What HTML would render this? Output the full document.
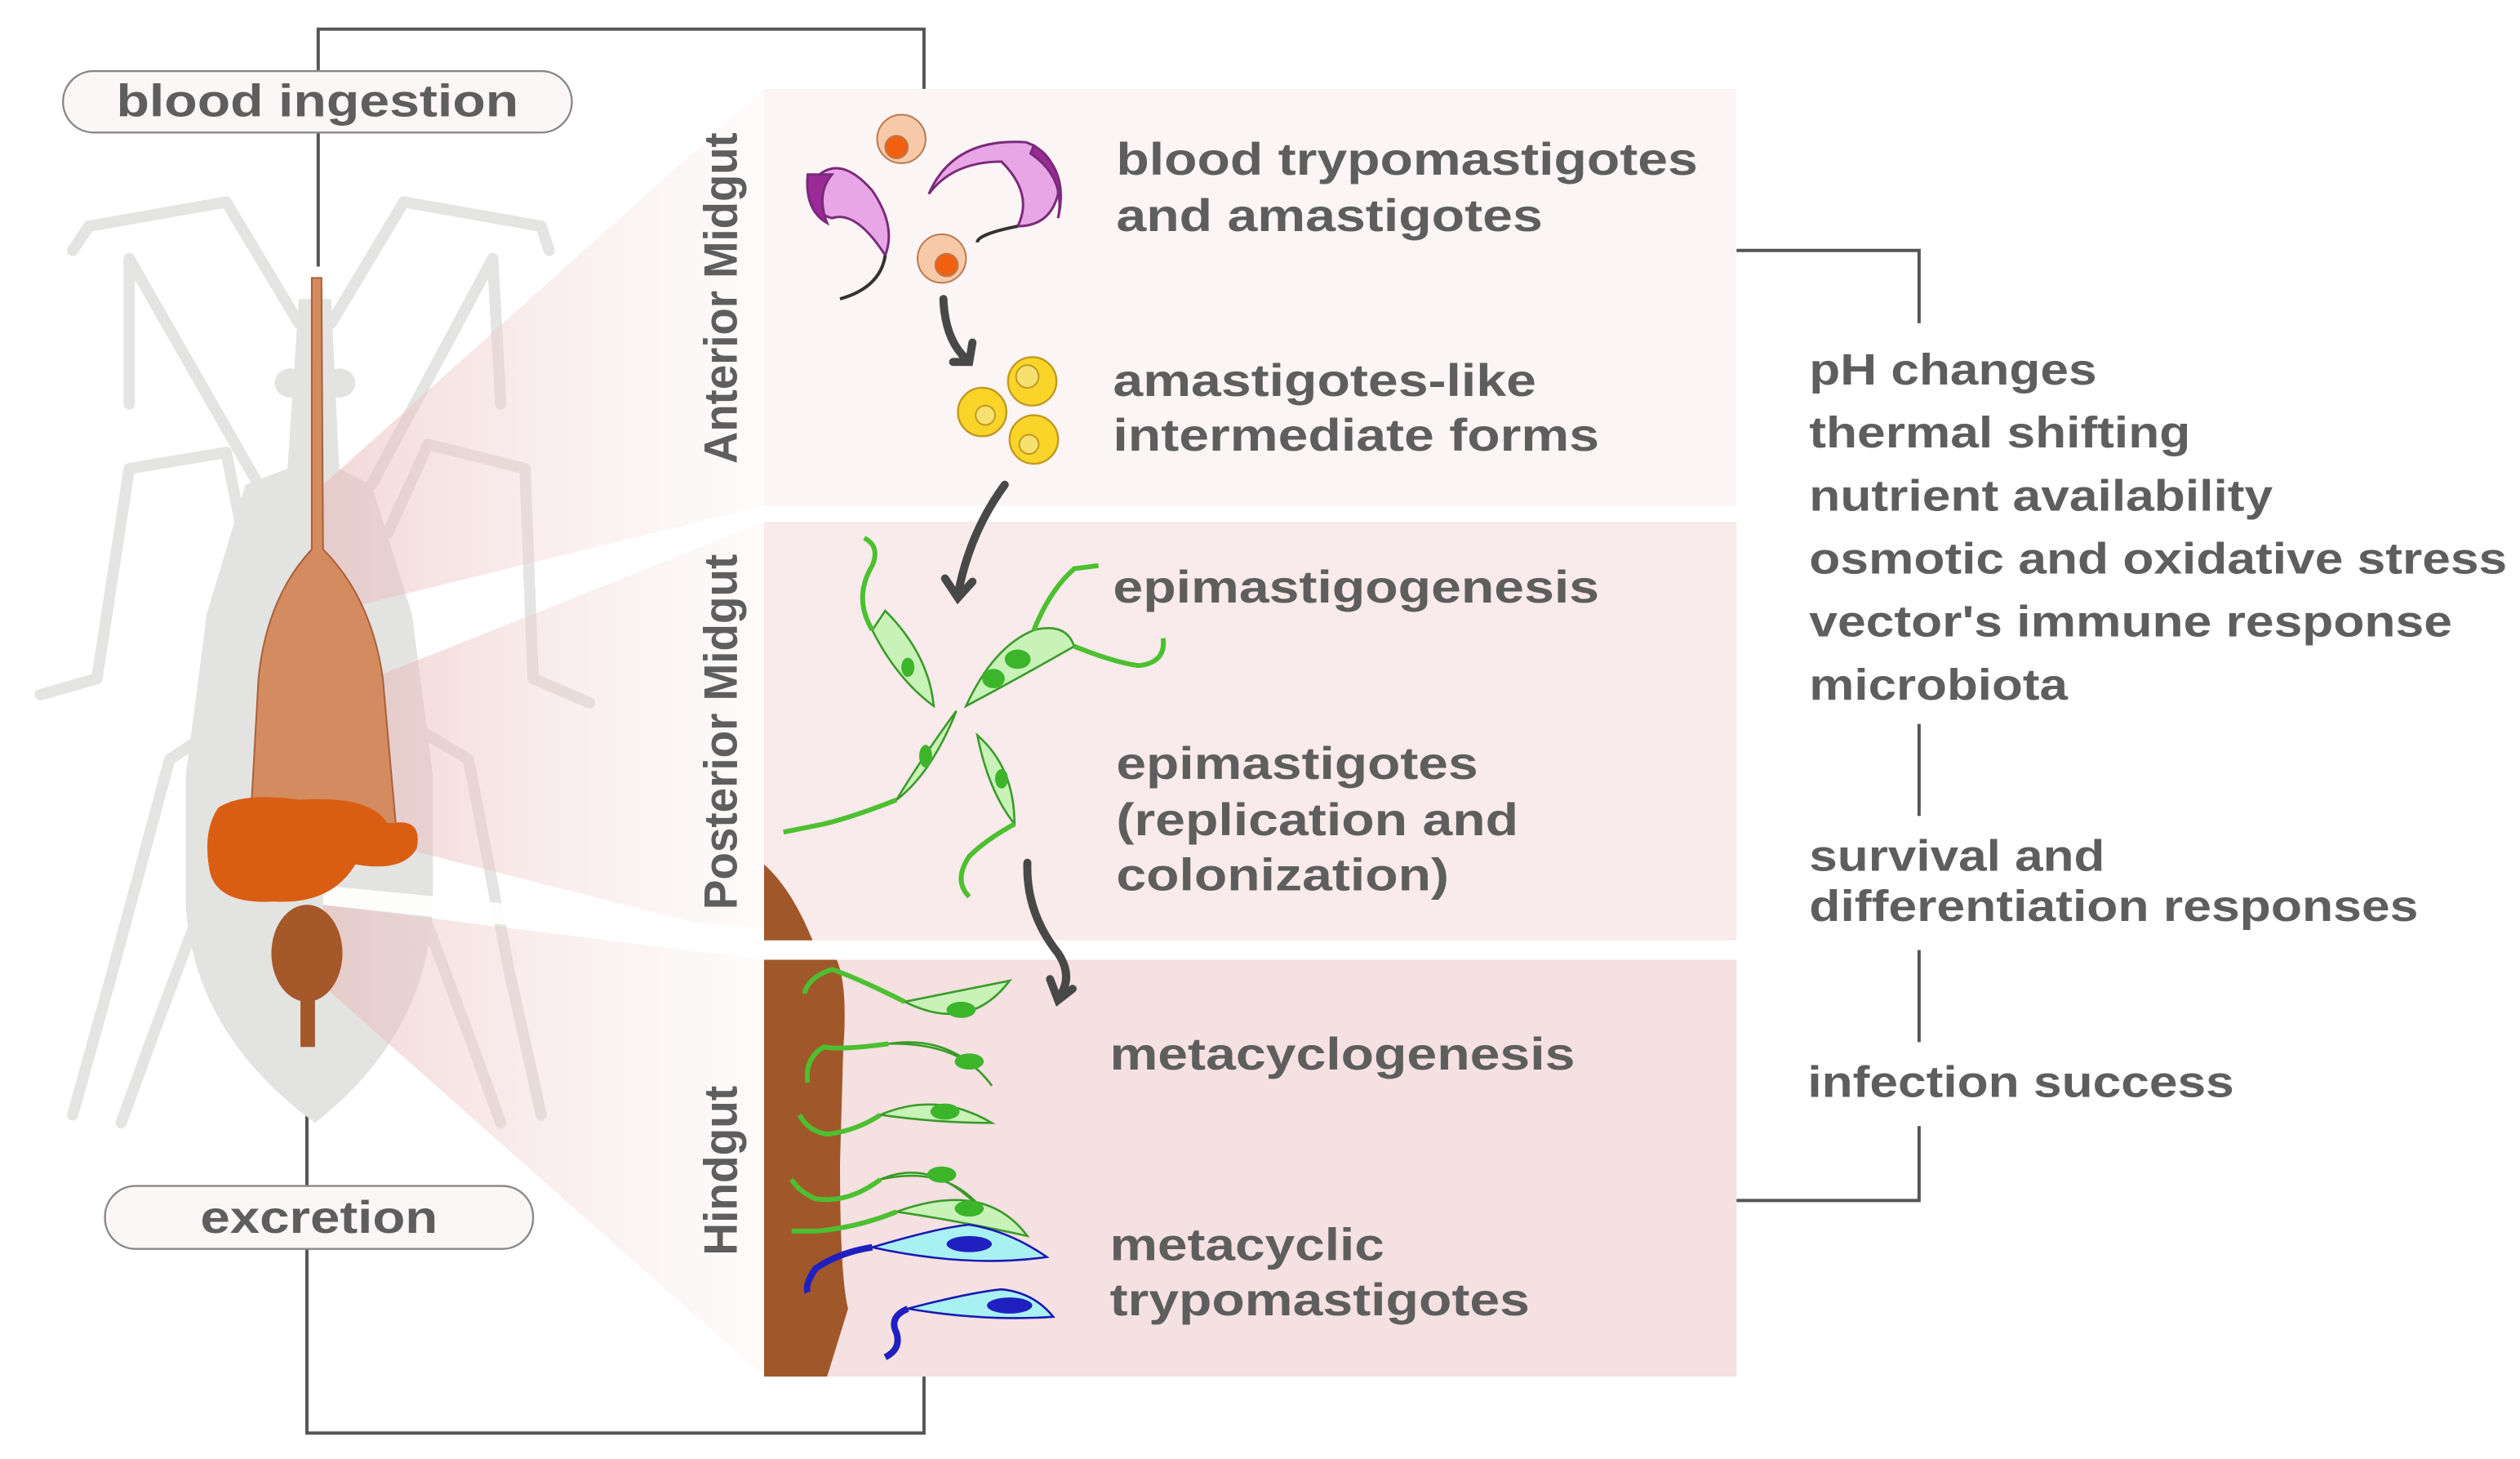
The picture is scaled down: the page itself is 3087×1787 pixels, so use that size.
<!DOCTYPE html>
<html><head><meta charset="utf-8"><style>
html,body{margin:0;padding:0;background:#fff;}
svg{display:block;}
text{font-family:"Liberation Sans",Arial,sans-serif;font-weight:bold;fill:#5e5e5e;}
</style></head><body>
<svg width="3087" height="1787" viewBox="0 0 1560 903" xmlns="http://www.w3.org/2000/svg">
<defs>
<linearGradient id="pk" x1="0" x2="1" y1="0" y2="0">
<stop offset="0" stop-color="#e9b8b8" stop-opacity="0.55"/>
<stop offset="1" stop-color="#f6e2e2" stop-opacity="0.15"/>
</linearGradient>
</defs>
<path d="M197,165 V18 H572 V56" fill="none" stroke="#555" stroke-width="2"/>
<path d="M190,665 V887 H572 V852" fill="none" stroke="#555" stroke-width="2"/>

<rect x="473" y="55" width="602" height="258" fill="#fcf5f5"/>
<rect x="473" y="323" width="602" height="259" fill="#f9eaeb"/>
<rect x="473" y="594" width="602" height="258" fill="#f5e0e2"/>

<g fill="none" stroke="#e4e4e2" stroke-width="7" stroke-linecap="round" stroke-linejoin="round">
<path d="M185,200 L140,125 L55,140 L45,155"/>
<path d="M205,200 L250,125 L335,140 L340,155"/>
<path d="M160,300 L80,160 L80,250"/>
<path d="M230,300 L305,160 L310,250"/>
<path d="M150,330 L140,280 L80,290 L60,420 L25,430"/>
<path d="M240,330 L265,275 L325,290 L330,420 L365,435"/>
<path d="M150,440 L105,470 L70,600 L45,690"/>
<path d="M240,440 L290,470 L315,600 L335,690"/>
<path d="M125,560 L95,640 L75,695"/>
<path d="M260,560 L290,640 L310,695"/>
</g>
<g fill="#e3e3e1">
<path d="M185,185 L205,185 L210,290 L230,300 L255,380 L268,480 L268,560 Q265,640 195,695 Q120,640 115,560 L115,480 L128,380 L152,300 L178,290 Z"/>
<ellipse cx="180" cy="237" rx="10" ry="9"/><ellipse cx="210" cy="237" rx="10" ry="9"/>
</g>
<polygon points="200,300 473,55 473,313 200,380" fill="url(#pk)"/>
<polygon points="230,420 473,323 473,582 230,520" fill="url(#pk)"/>
<polygon points="200,560 473,594 473,852 200,610" fill="url(#pk)"/>
<polygon points="200,548 473,575 473,590 200,560" fill="#fff" opacity="0.9"/>
<path d="M193,172 L199,172 L200,340 Q230,370 237,420 L245,510 L155,510 L160,420 Q165,370 193,340 Z" fill="#d38b5f" stroke="#a8603a" stroke-width="1"/>
<path d="M135,500 Q150,490 185,495 Q230,492 240,510 Q262,505 258,525 Q250,540 220,535 Q205,560 170,558 Q135,560 130,540 Q125,515 135,500 Z" fill="#d95e12"/>
<ellipse cx="190" cy="590" rx="22" ry="30" fill="#a5582a"/>
<rect x="186" y="600" width="9" height="48" fill="#a5582a"/>

<rect x="39" y="44" width="315" height="38" rx="19" fill="#fbf7f6" stroke="#888" stroke-width="1.2"/>
<text x="72" y="72" font-size="28" textLength="249" lengthAdjust="spacingAndGlyphs">blood ingestion</text>
<rect x="65" y="734" width="265" height="39" rx="19" fill="#fbf7f6" stroke="#888" stroke-width="1.2"/>
<text x="124" y="763" font-size="28" textLength="147" lengthAdjust="spacingAndGlyphs">excretion</text>

<text transform="translate(456,287) rotate(-90)" font-size="29" textLength="205" lengthAdjust="spacingAndGlyphs">Anterior Midgut</text>
<text transform="translate(456,563) rotate(-90)" font-size="29" textLength="220" lengthAdjust="spacingAndGlyphs">Posterior Midgut</text>
<text transform="translate(456,777) rotate(-90)" font-size="29" textLength="105" lengthAdjust="spacingAndGlyphs">Hindgut</text>

<path d="M473,535 Q490,550 503,582 L473,582 Z" fill="#a0582a"/>
<path d="M473,594 L518,594 Q525,610 522,650 L520,720 Q520,790 525,810 L512,852 L473,852 Z" fill="#a0582a"/>

<g stroke="#7a2a7a" stroke-width="1.5">
<path d="M505,110 Q520,95 540,118 Q555,140 548,158 Q530,130 515,135 Q498,130 505,110 Z" fill="#e9a6e6"/>
<path d="M500,108 Q498,130 512,138 Q505,120 515,108 Z" fill="#9a2a95"/>
<path d="M635,88 Q655,95 655,120 Q650,140 630,140 Q640,120 620,100 Q590,100 575,120 Q590,85 635,88 Z" fill="#e9a6e6"/>
<path d="M640,90 Q662,105 655,135 Q660,110 638,95 Z" fill="#9a2a95"/>
</g>
<path d="M548,158 Q545,178 520,185" fill="none" stroke="#333" stroke-width="2"/>
<path d="M630,140 Q605,145 605,150" fill="none" stroke="#333" stroke-width="2"/>
<g stroke="#b87a50" stroke-width="1">
<ellipse cx="558" cy="86" rx="15" ry="15" fill="#f8c9a8"/><circle cx="555" cy="91" r="7" fill="#f06010"/>
<ellipse cx="583" cy="160" rx="15" ry="15" fill="#f8c9a8"/><circle cx="586" cy="164" r="7" fill="#f06010"/>
</g>
<g stroke="#c09a20" stroke-width="1.2" fill="#fbd42a">
<circle cx="639" cy="236" r="15"/><circle cx="608" cy="255" r="15"/><circle cx="640" cy="272" r="15"/>
</g>
<g fill="#f5e070" stroke="#c09a20" stroke-width="1"><circle cx="636" cy="233" r="7"/><circle cx="610" cy="257" r="6"/><circle cx="637" cy="275" r="6"/></g>

<g fill="none" stroke="#484848" stroke-width="5" stroke-linecap="round">
<path d="M584,185 Q585,210 598,222"/><path d="M590,224 L600,224 L602,212"/>
<path d="M622,300 Q600,330 593,368"/><path d="M585,358 L593,370 L602,360"/>
<path d="M636,534 Q635,565 655,590 Q665,605 655,618"/><path d="M650,606 L655,619 L664,612"/>
</g>

<g stroke="#3a9a2a" stroke-width="1.3" fill="#c8f2b8">
<path d="M548,378 Q575,405 578,437 Q555,420 540,390 Z"/>
<path d="M598,437 Q615,400 640,390 Q660,385 665,400 Q630,420 598,437 Z"/>
<path d="M592,440 Q570,470 555,495 Q575,480 590,445 Z"/>
<path d="M605,455 Q628,475 628,510 Q612,490 605,455 Z"/>
</g>
<g fill="none" stroke="#4cc030" stroke-width="3">
<path d="M540,390 Q528,370 540,350 Q545,338 535,333"/>
<path d="M665,400 Q690,410 705,412 Q722,410 720,395"/>
<path d="M640,390 Q650,365 665,352 L680,350"/>
<path d="M555,495 Q530,505 510,510 L485,515"/>
<path d="M628,510 Q610,520 600,530 Q590,545 600,555"/>
</g>
<g fill="#3cb52a"><ellipse cx="562" cy="413" rx="4" ry="6"/><ellipse cx="630" cy="408" rx="8" ry="6"/><ellipse cx="615" cy="420" rx="7" ry="6"/><ellipse cx="573" cy="468" rx="4" ry="7"/><ellipse cx="620" cy="482" rx="4" ry="6"/></g>

<g stroke="#3a9a2a" stroke-width="1.3" fill="#c8f2b8">
<path d="M560,620 Q600,640 625,607 Q600,612 560,620 Z"/>
<path d="M550,646 Q590,640 614,672 Q595,645 550,646 Z"/>
<path d="M545,690 Q580,675 614,695 Q580,695 545,690 Z"/>
<path d="M545,730 Q580,715 612,754 Q590,720 545,730 Z"/>
<path d="M555,750 Q610,730 636,765 Q590,755 555,750 Z"/>
</g>
<g fill="none" stroke="#4cc030" stroke-width="3">
<path d="M560,620 Q530,605 515,600 Q500,605 498,615"/>
<path d="M550,646 Q520,650 510,648 Q498,655 500,670"/>
<path d="M545,690 Q530,700 512,702 Q500,700 495,690"/>
<path d="M545,730 Q525,745 505,742 Q495,738 490,730"/>
<path d="M555,750 Q530,760 505,762 L490,762"/>
</g>
<g fill="#3cb52a"><ellipse cx="595" cy="625" rx="9" ry="5"/><ellipse cx="600" cy="657" rx="9" ry="5"/><ellipse cx="585" cy="688" rx="9" ry="5"/><ellipse cx="583" cy="727" rx="9" ry="5"/><ellipse cx="600" cy="748" rx="9" ry="5"/></g>
<g stroke="#1a1ab0" stroke-width="1.3" fill="#a8f0f2">
<path d="M540,772 Q580,760 600,758 Q625,762 648,778 Q600,785 540,772 Z"/>
<path d="M562,810 Q600,800 620,798 Q640,800 652,815 Q610,818 562,810 Z"/>
</g>
<g fill="none" stroke="#2020c0" stroke-width="4">
<path d="M540,772 Q520,775 505,785 Q498,795 500,800"/>
<path d="M562,810 Q550,815 555,825 Q558,835 548,840"/>
</g>
<g fill="#2020c0"><ellipse cx="600" cy="770" rx="14" ry="5"/><ellipse cx="625" cy="808" rx="14" ry="5"/></g>

<g font-size="28" lengthAdjust="spacingAndGlyphs">
<text x="691" y="108" textLength="360" lengthAdjust="spacingAndGlyphs">blood trypomastigotes</text>
<text x="691" y="143" textLength="264" lengthAdjust="spacingAndGlyphs">and amastigotes</text>
<text x="689" y="245" textLength="262" lengthAdjust="spacingAndGlyphs">amastigotes-like</text>
<text x="689" y="279" textLength="301" lengthAdjust="spacingAndGlyphs">intermediate forms</text>
<text x="689" y="373" textLength="301" lengthAdjust="spacingAndGlyphs">epimastigogenesis</text>
<text x="691" y="482" textLength="224" lengthAdjust="spacingAndGlyphs">epimastigotes</text>
<text x="691" y="517" textLength="249" lengthAdjust="spacingAndGlyphs">(replication and</text>
<text x="691" y="551" textLength="206" lengthAdjust="spacingAndGlyphs">colonization)</text>
<text x="687" y="662" textLength="288" lengthAdjust="spacingAndGlyphs">metacyclogenesis</text>
<text x="687" y="780" textLength="170" lengthAdjust="spacingAndGlyphs">metacyclic</text>
<text x="687" y="814" textLength="260" lengthAdjust="spacingAndGlyphs">trypomastigotes</text>
</g>

<g fill="none" stroke="#555" stroke-width="2">
<path d="M1075,155 H1188 V200"/>
<path d="M1188,448 V505"/>
<path d="M1188,588 V645"/>
<path d="M1188,697 V743 H1075"/>
</g>
<g font-size="27">
<text x="1120" y="238" textLength="178" lengthAdjust="spacingAndGlyphs">pH changes</text>
<text x="1120" y="277" textLength="236" lengthAdjust="spacingAndGlyphs">thermal shifting</text>
<text x="1120" y="316" textLength="287" lengthAdjust="spacingAndGlyphs">nutrient availability</text>
<text x="1120" y="355" textLength="432" lengthAdjust="spacingAndGlyphs">osmotic and oxidative stress</text>
<text x="1120" y="394" textLength="398" lengthAdjust="spacingAndGlyphs">vector's immune response</text>
<text x="1120" y="433" textLength="160" lengthAdjust="spacingAndGlyphs">microbiota</text>
<text x="1120" y="539" textLength="183" lengthAdjust="spacingAndGlyphs">survival and</text>
<text x="1120" y="570" textLength="377" lengthAdjust="spacingAndGlyphs">differentiation responses</text>
<text x="1119" y="679" textLength="264" lengthAdjust="spacingAndGlyphs">infection success</text>
</g>
</svg>
</body></html>
